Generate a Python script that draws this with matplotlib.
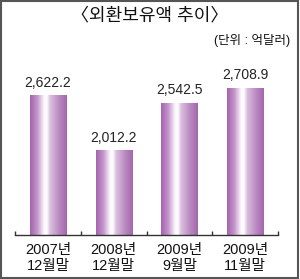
import numpy as np
import matplotlib
matplotlib.use("Agg")
import matplotlib.pyplot as plt
from matplotlib.colors import LinearSegmentedColormap
from matplotlib.patches import Rectangle

plt.rcParams['font.family'] = ['Liberation Sans', 'Noto Sans CJK KR']

categories = ['2007년\n12월말', '2008년\n12월말', '2009년\n9월말', '2009년\n11월말']
values = [2622.2, 2012.2, 2542.5, 2708.9]
labels = ['2,622.2', '2,012.2', '2,542.5', '2,708.9']

W, H = 300, 279
fig = plt.figure(figsize=(W / 100, H / 100), dpi=100)
ax = fig.add_axes([15 / W, 44 / H, 263 / W, 175 / H])

x = np.arange(len(values))
bars = ax.bar(x, values, width=0.55, color='none', edgecolor='none')

cmap = LinearSegmentedColormap.from_list('bar', [
    (0.0, '#a463ae'), (0.2, '#c596cc'), (0.38, '#fbf6fb'), (0.45, '#ffffff'),
    (0.55, '#d9bedd'), (0.8, '#b887bf'), (1.0, '#a465ad')])
grad = np.linspace(0, 1, 256).reshape(1, -1)
ymin = 1074
for b in bars:
    x0 = b.get_x()
    im = ax.imshow(grad, cmap=cmap, aspect='auto',
                   extent=[x0, x0 + b.get_width(), ymin, b.get_height()], zorder=2)
    im.set_clip_path(b)

ax.set_xlim(-0.5, 3.5)
ax.set_ylim(ymin, 3016)

for xi, v, lab in zip(x, values, labels):
    ax.text(xi, v + 60, lab, ha='center', va='bottom', fontsize=10, color='#222222')

for s in ['top', 'right', 'left']:
    ax.spines[s].set_visible(False)
ax.spines['bottom'].set_color('#333333')
ax.spines['bottom'].set_linewidth(1.0)
ax.set_yticks([])
ax.set_xticks([-0.5, 0.5, 1.5, 2.5, 3.5])
ax.set_xticklabels([])
ax.tick_params(axis='x', direction='in', length=3, color='#333333', width=1.0)
for xi, c in zip(x, categories):
    ax.text(xi, ymin - 90, c, ha='center', va='top', fontsize=10.5,
            linespacing=1.15, color='#111111')

fig.text(0.5, 1 - 16 / H, '〈외환보유액 추이〉', ha='center', va='center',
         fontsize=13, color='#111111')
fig.text(290 / W, 1 - 41 / H, '(단위 : 억달러)', ha='right', va='center',
         fontsize=9, color='#111111')

fig.patches.append(Rectangle((0.5 / W, 1.5 / H), 297.5 / W, 277 / H,
                             transform=fig.transFigure, fill=False,
                             edgecolor='#555555', linewidth=1.5))

fig.savefig('out.png', dpi=100)
